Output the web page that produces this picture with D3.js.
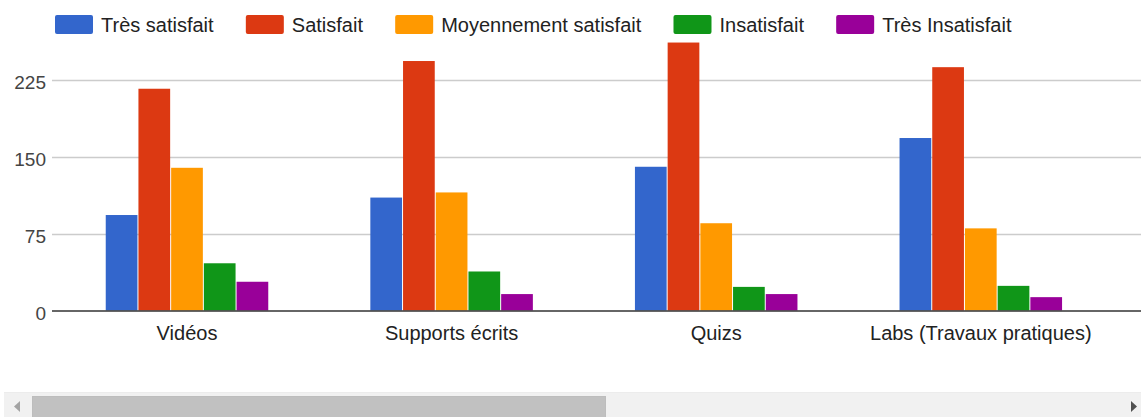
<!DOCTYPE html>
<html>
<head>
<meta charset="utf-8">
<script src="https://cdn.jsdelivr.net/npm/d3@7"></script>
<style>
  html, body { margin: 0; padding: 0; background: #fff; }
  svg { display: block; font-family: Arial, "Liberation Sans", sans-serif; }
</style>
</head>
<body>
<svg id="chart" width="1141" height="417"></svg>
<script>
const categories = ["Vidéos", "Supports écrits", "Quizs", "Labs (Travaux pratiques)"];
const seriesNames = ["Très satisfait", "Satisfait", "Moyennement satisfait", "Insatisfait", "Très Insatisfait"];
const tresSatisfait = [93, 110, 140, 168];
const satisfait = [216, 243, 261, 237];
const moyennementSatisfait = [139, 115, 85, 80];
const insatisfait = [46, 38, 23, 24];
const tresInsatisfait = [28, 16, 16, 13];
const yTicks = [0, 75, 150, 225];
const colors = ["#3366cc", "#dc3912", "#ff9900", "#109618", "#990099"];

const seriesValues = [tresSatisfait, satisfait, moyennementSatisfait, insatisfait, tresInsatisfait];

const svg = d3.select("#chart");
const W = 1141;

const plotLeft = 52, plotRight = 1141;
const y = d3.scaleLinear().domain([0, 225]).range([310.5, 79.5]);
const x0 = d3.scaleBand().domain(categories).range([54.7, 1113.1]).paddingInner(0).paddingOuter(0);
const groupW = x0.bandwidth() * 0.618;
const x1 = d3.scaleBand().domain(seriesNames).range([0, groupW]);

// gridlines
svg.append("g").selectAll("line").data(yTicks.filter(t => t !== 0)).join("line")
  .attr("x1", plotLeft).attr("x2", plotRight)
  .attr("y1", d => Math.round(y(d)) + 0.5).attr("y2", d => Math.round(y(d)) + 0.5)
  .attr("stroke", "#cccccc").attr("stroke-width", 1.3);

// y axis labels
const yAxis = d3.axisLeft(y).tickValues(yTicks).tickSize(0).tickPadding(0);
const gy = svg.append("g").attr("transform", "translate(46,0)").call(yAxis);
gy.select(".domain").remove();
gy.selectAll("text").attr("font-size", 19).attr("fill", "#444").attr("dy", "0.47em")
  .attr("font-family", "Arial, 'Liberation Sans', sans-serif");

// bars
const groups = svg.append("g").selectAll("g").data(categories).join("g")
  .attr("transform", d => `translate(${x0(d) + (x0.bandwidth() - groupW) / 2},0)`);
groups.selectAll("rect").data((c, ci) => seriesNames.map((s, si) => ({ s, si, v: seriesValues[si][ci] })))
  .join("rect")
  .attr("x", d => x1(d.s) + 0.5)
  .attr("width", x1.bandwidth() - 1)
  .attr("y", d => y(d.v))
  .attr("height", d => y(0) - y(d.v))
  .attr("fill", d => colors[d.si]);

// baseline
svg.append("line").attr("x1", plotLeft).attr("x2", plotRight)
  .attr("y1", y(0) + 0.5).attr("y2", y(0) + 0.5)
  .attr("stroke", "#333333").attr("stroke-width", 1.6);

// x axis labels
const xAxis = d3.axisBottom(x0).tickSize(0).tickPadding(0);
const gx = svg.append("g").attr("transform", `translate(0,${y(0)})`).call(xAxis);
gx.select(".domain").remove();
gx.selectAll("text").attr("font-size", 20).attr("fill", "#222").attr("dy", 0).attr("y", 29.5)
  .attr("font-family", "Arial, 'Liberation Sans', sans-serif");

// legend
const legend = svg.append("g");
let lx = 55;
seriesNames.forEach((name, i) => {
  legend.append("rect").attr("x", lx).attr("y", 15).attr("width", 38).attr("height", 19)
    .attr("rx", 2).attr("fill", colors[i]);
  const t = legend.append("text").attr("x", lx + 46).attr("y", 31.5)
    .attr("font-size", 20).attr("fill", "#222").text(name);
  lx += 46 + t.node().getComputedTextLength() + 32.2;
});

// scrollbar decoration
const sb = svg.append("g");
sb.append("rect").attr("x", 4).attr("y", 392).attr("width", W - 4).attr("height", 25).attr("fill", "#f1f1f1");
sb.append("line").attr("x1", 4).attr("x2", W).attr("y1", 392.5).attr("y2", 392.5).attr("stroke", "#ececec");
sb.append("rect").attr("x", 32.5).attr("y", 396.5).attr("width", 573).attr("height", 21).attr("fill", "#c1c1c1").attr("stroke", "#bdbdbd");
sb.append("path").attr("d", "M14,406.5 L20,401 L20,412 Z").attr("fill", "#a3a3a3");
sb.append("path").attr("d", "M1137,406.5 L1131,401 L1131,412 Z").attr("fill", "#505050");
</script>
</body>
</html>
